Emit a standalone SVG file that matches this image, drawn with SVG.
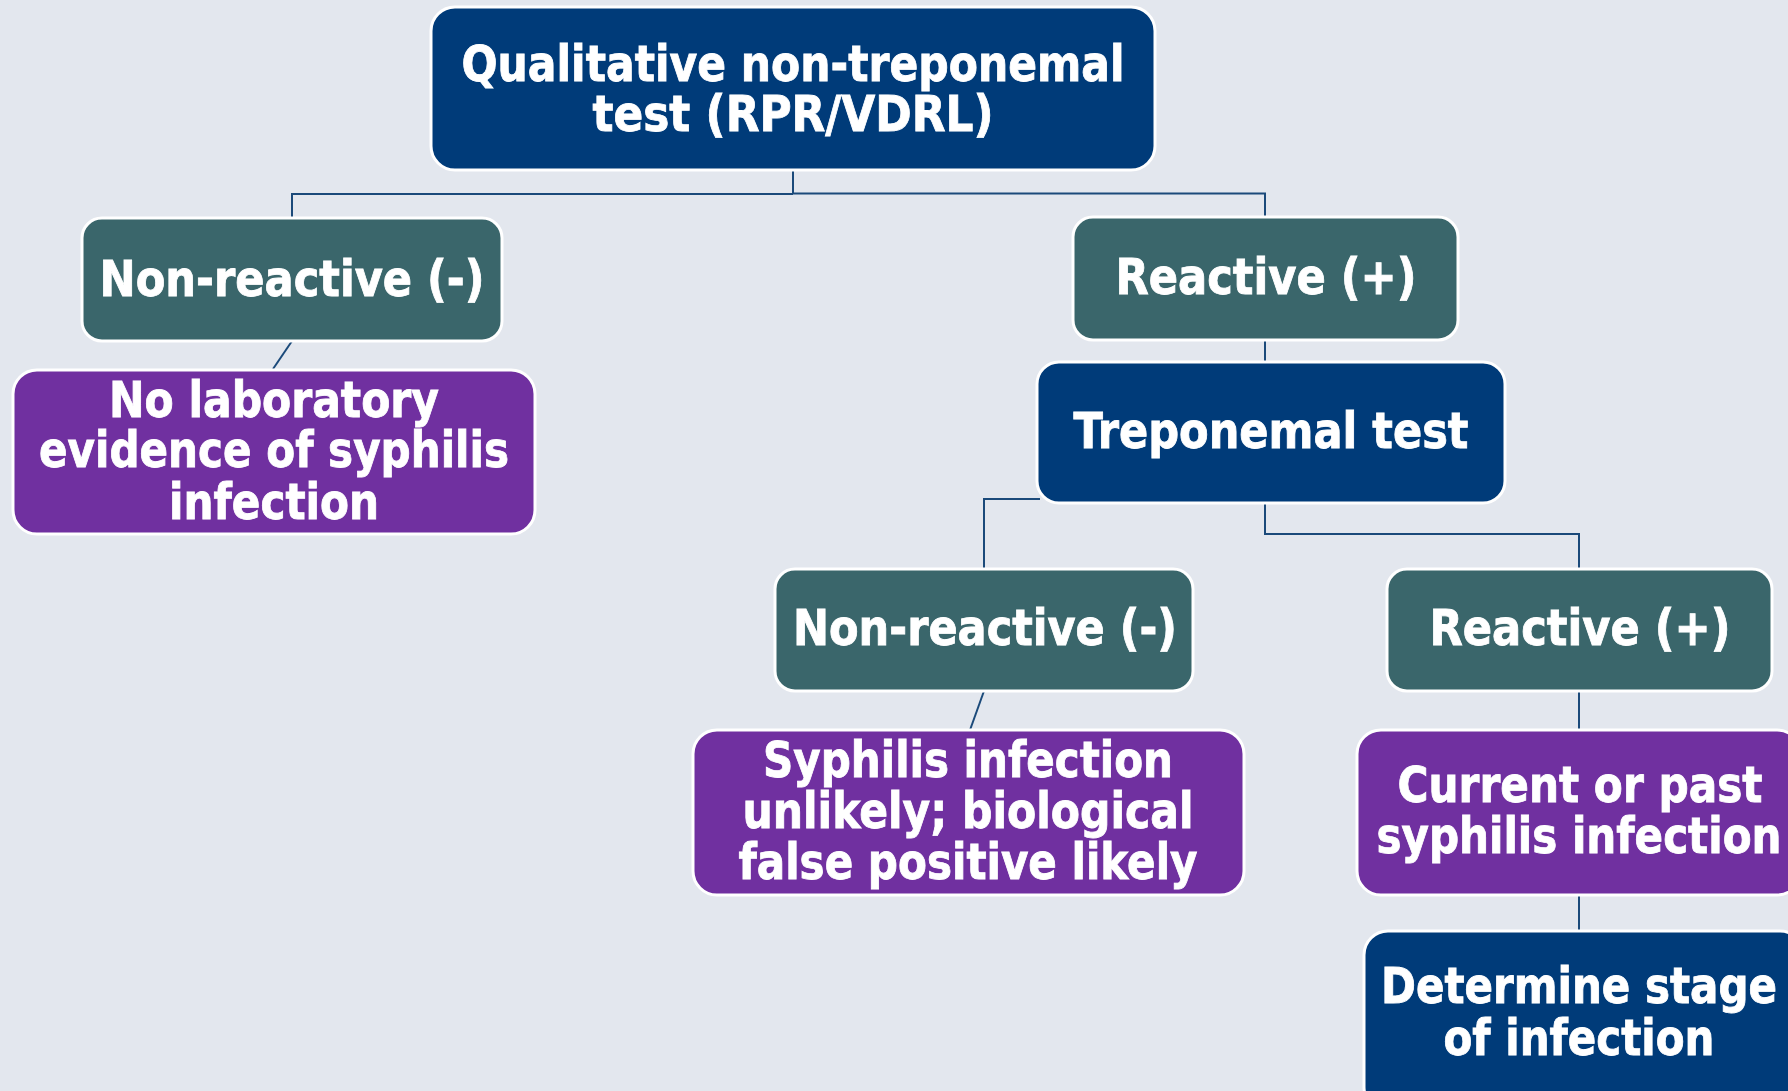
<svg xmlns="http://www.w3.org/2000/svg" width="1788" height="1091" viewBox="0 0 1788 1091">
<style>
.bg{fill:#E3E7EE}
.box{stroke:#FFFFFF;stroke-width:3}
.navy{fill:#003B79}
.teal{fill:#3A666B}
.purple{fill:#7030A0}
.conn{fill:none;stroke:#1B4A7A;stroke-width:2}
text{font-family:"DejaVu Sans Condensed","DejaVu Sans",sans-serif;font-stretch:condensed;font-weight:bold;font-size:50px;fill:#FFFFFF;stroke:#FFFFFF;stroke-width:0.8;text-anchor:middle}
</style>
<rect class="bg" x="0" y="0" width="1788" height="1091"/>
<g id="connectors">
<path class="conn" d="M793,171 V193.5 M292,218 V194 H793 M793,193.5 H1265 V217"/>
<path class="conn" d="M292,341 L273,369"/>
<path class="conn" d="M1265,340 V362"/>
<path class="conn" d="M1040,499 H984 V569"/>
<path class="conn" d="M1265,503 V534 H1579 V569"/>
<path class="conn" d="M984,691 L970,730"/>
<path class="conn" d="M1579,691 V730"/>
<path class="conn" d="M1579,895 V931"/>
</g>
<g id="n-qualitative">
<rect class="box navy" x="431" y="7" width="724" height="163" rx="24"/>
<text x="793" y="81" textLength="663" lengthAdjust="spacingAndGlyphs">Qualitative non-treponemal</text>
<text x="793" y="131" textLength="401" lengthAdjust="spacingAndGlyphs">test (RPR/VDRL)</text>
</g>
<g id="n-nonreactive1">
<rect class="box teal" x="82" y="218" width="420" height="123" rx="20"/>
<text x="292" y="296" textLength="385" lengthAdjust="spacingAndGlyphs">Non-reactive (-)</text>
</g>
<g id="n-noevidence">
<rect class="box purple" x="13" y="370" width="522" height="164" rx="24"/>
<text x="274" y="417" textLength="330" lengthAdjust="spacingAndGlyphs">No laboratory</text>
<text x="274" y="467" textLength="470" lengthAdjust="spacingAndGlyphs">evidence of syphilis</text>
<text x="274" y="519" textLength="210" lengthAdjust="spacingAndGlyphs">infection</text>
</g>
<g id="n-reactive1">
<rect class="box teal" x="1073" y="217" width="385" height="123" rx="20"/>
<text x="1266" y="294" textLength="301" lengthAdjust="spacingAndGlyphs">Reactive (+)</text>
</g>
<g id="n-treponemal">
<rect class="box navy" x="1037" y="362" width="468" height="141" rx="22"/>
<text x="1271" y="448" textLength="395" lengthAdjust="spacingAndGlyphs">Treponemal test</text>
</g>
<g id="n-nonreactive2">
<rect class="box teal" x="775" y="569" width="418" height="122" rx="20"/>
<text x="985" y="645" textLength="384" lengthAdjust="spacingAndGlyphs">Non-reactive (-)</text>
</g>
<g id="n-unlikely">
<rect class="box purple" x="693" y="730" width="551" height="165" rx="24"/>
<text x="968" y="777" textLength="410" lengthAdjust="spacingAndGlyphs">Syphilis infection</text>
<text x="968" y="828" textLength="451" lengthAdjust="spacingAndGlyphs">unlikely; biological</text>
<text x="968" y="879" textLength="459" lengthAdjust="spacingAndGlyphs">false positive likely</text>
</g>
<g id="n-reactive2">
<rect class="box teal" x="1387" y="569" width="385" height="122" rx="20"/>
<text x="1580" y="645" textLength="301" lengthAdjust="spacingAndGlyphs">Reactive (+)</text>
</g>
<g id="n-current">
<rect class="box purple" x="1357" y="730" width="444" height="165" rx="24"/>
<text x="1580" y="802" textLength="365" lengthAdjust="spacingAndGlyphs">Current or past</text>
<text x="1579" y="853" textLength="405" lengthAdjust="spacingAndGlyphs">syphilis infection</text>
</g>
<g id="n-stage">
<rect class="box navy" x="1364" y="931" width="440" height="180" rx="24"/>
<text x="1579" y="1003" textLength="396" lengthAdjust="spacingAndGlyphs">Determine stage</text>
<text x="1579" y="1055" textLength="271" lengthAdjust="spacingAndGlyphs">of infection</text>
</g>
</svg>
